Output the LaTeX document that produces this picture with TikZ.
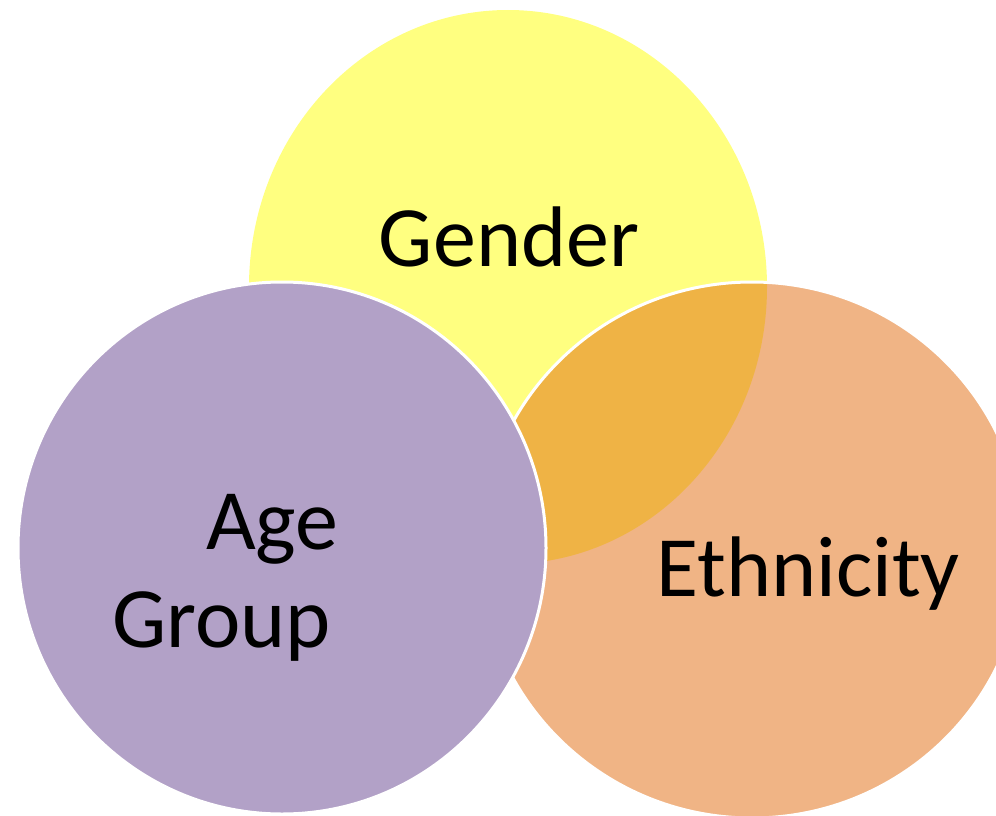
\documentclass[tikz,border=0pt]{standalone}
\usepackage{fontspec}
\setmainfont{Carlito}
\usetikzlibrary{shapes.geometric}
\definecolor{yellowc}{RGB}{255,255,128}
\definecolor{purplec}{RGB}{178,161,199}
\definecolor{orangec}{RGB}{225,105,11}
\tikzset{
  blob/.style={ellipse, inner sep=0pt, outer sep=0pt},
  label/.style={inner sep=0pt, font=\fontsize{86}{98}\selectfont, text=black}
}
\begin{document}
\begin{tikzpicture}[x=1pt,y=-1pt]
\useasboundingbox (0,0) rectangle (996,816);
\clip (0,0) rectangle (996,816);
\node[blob, fill=yellowc, minimum width=518pt, minimum height=554pt] (gender) at (508,287) {};
\node[blob, fill=orangec, fill opacity=0.5, draw=white, draw opacity=1, line width=3pt,
      minimum width=544pt, minimum height=536pt] (ethnicity) at (752,550) {};
\node[blob, fill=purplec, draw=white, line width=3pt,
      minimum width=528pt, minimum height=532pt] (age) at (282,548) {};
\node[label, anchor=base] (tgender) at (509,266) {Gender};
\node[label, anchor=base west] (tage) at (206,549) {Age};
\node[label, anchor=base west] (tgroup) at (112,647) {Group};
\node[label, anchor=base west] (tethnicity) at (656,596) {Ethnicity};
\end{tikzpicture}
\end{document}
